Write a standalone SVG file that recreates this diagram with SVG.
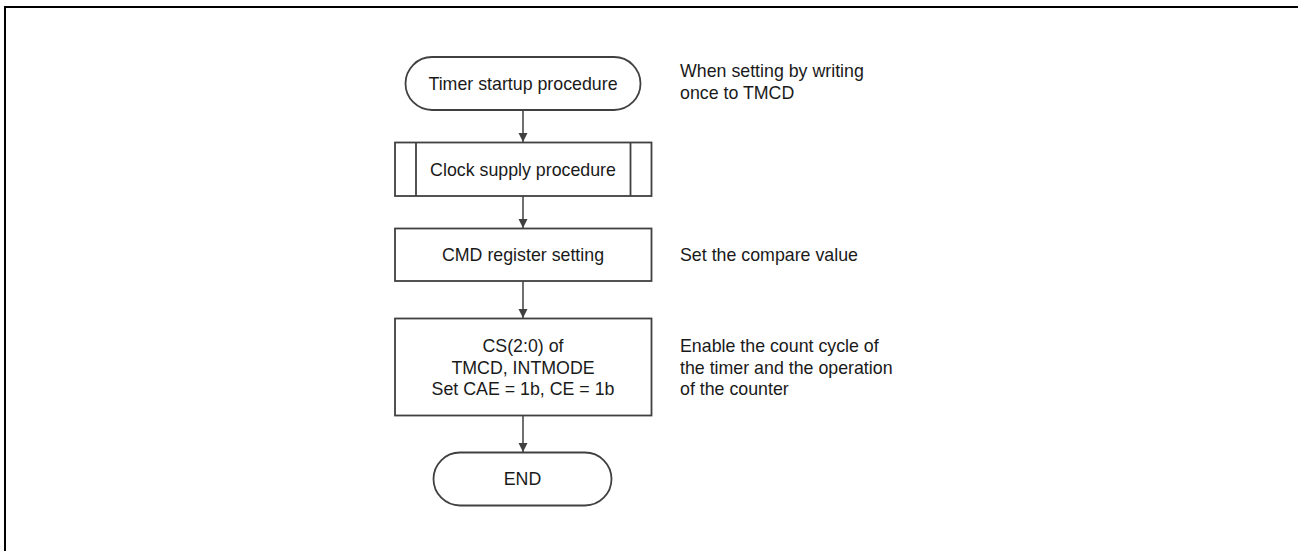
<svg xmlns="http://www.w3.org/2000/svg" width="1298" height="551" viewBox="0 0 1298 551">
<defs>
<style>
.shape{fill:#fff;stroke:#404040;stroke-width:1.8}
.t{font-family:"Liberation Sans",Arial,sans-serif;font-size:17.8px;fill:#1a1a1a}
.c{text-anchor:middle}
.conn{stroke:#404040;stroke-width:1.5;fill:none;marker-end:url(#ah)}
</style>
<marker id="ah" markerWidth="10" markerHeight="10" refX="9" refY="5" orient="auto" markerUnits="userSpaceOnUse">
<path d="M0,0.5 L9,5 L0,9.5 Z" fill="#404040"/>
</marker>
</defs>
<rect width="1298" height="551" fill="#fff"/>
<g id="frame">
<path d="M5,551 L5,7 L1298,7" fill="none" stroke="#000" stroke-width="2"/>
</g>
<g id="connectors">
<line class="conn" x1="523" y1="110" x2="523" y2="142"/>
<line class="conn" x1="523" y1="196" x2="523" y2="228"/>
<line class="conn" x1="523" y1="281" x2="523" y2="318"/>
<line class="conn" x1="523" y1="416" x2="523" y2="452"/>
</g>
<g id="start">
<rect class="shape" x="405.5" y="57" width="235" height="53" rx="26.5" ry="26.5"/>
<text class="t c" x="523" y="89.5">Timer startup procedure</text>
</g>
<g id="clock">
<rect class="shape" x="395" y="142.5" width="256.5" height="53.5"/>
<line class="shape" x1="416" y1="142.5" x2="416" y2="196"/>
<line class="shape" x1="630.5" y1="142.5" x2="630.5" y2="196"/>
<text class="t c" x="523" y="175.5">Clock supply procedure</text>
</g>
<g id="cmd">
<rect class="shape" x="395" y="228.5" width="256.5" height="52.5"/>
<text class="t c" x="523" y="261">CMD register setting</text>
</g>
<g id="cs">
<rect class="shape" x="395" y="318.5" width="256.5" height="97"/>
<text class="t c" x="523" y="352">CS(2:0) of</text>
<text class="t c" x="523" y="373.5">TMCD, INTMODE</text>
<text class="t c" x="523" y="395">Set CAE = 1b, CE = 1b</text>
</g>
<g id="end">
<rect class="shape" x="433.5" y="452.5" width="178" height="53" rx="26.5" ry="26.5"/>
<text class="t c" x="522.5" y="485">END</text>
</g>
<g id="notes">
<text class="t" x="680" y="77">When setting by writing</text>
<text class="t" x="680" y="99">once to TMCD</text>
<text class="t" x="680" y="261">Set the compare value</text>
<text class="t" x="680" y="352">Enable the count cycle of</text>
<text class="t" x="680" y="373.5">the timer and the operation</text>
<text class="t" x="680" y="395">of the counter</text>
</g>
</svg>
